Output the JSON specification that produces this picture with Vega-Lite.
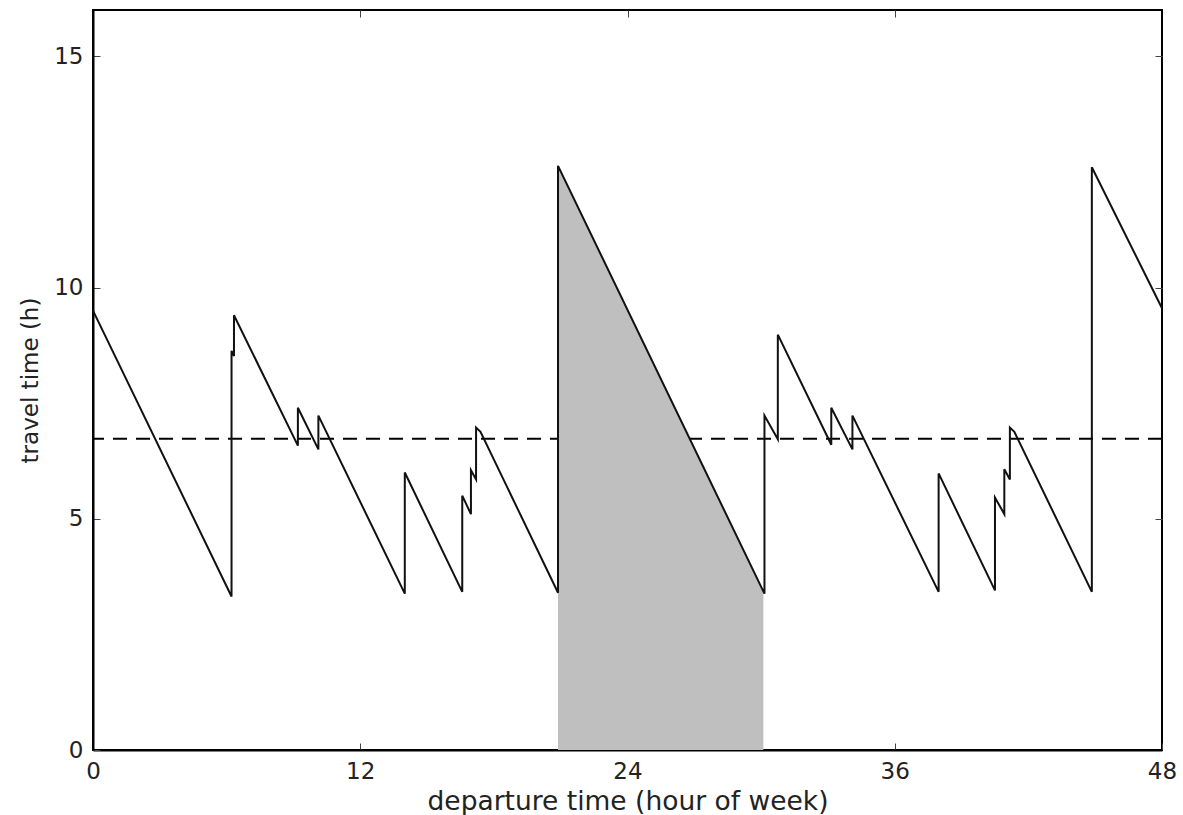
{
  "$schema": "https://vega.github.io/schema/vega-lite/v6.json",
  "width": 1069,
  "height": 740,
  "autosize": {"type": "none"},
  "padding": {"left": 93, "top": 10, "right": 21, "bottom": 65},
  "background": "white",
  "config": {
    "view": {"stroke": "black", "strokeWidth": 2},
    "axis": {
      "labelFont": "DejaVu Sans",
      "titleFont": "DejaVu Sans",
      "labelFontSize": 23,
      "titleFontSize": 23,
      "labelColor": "#222222",
      "titleColor": "#222222",
      "titleFontWeight": "normal",
      "labelFlush": false,
      "grid": false,
      "domainColor": "black",
      "domainWidth": 2,
      "tickColor": "#444444",
      "tickWidth": 1,
      "tickSize": -7
    }
  },
  "datasets": {
    "profile": [
      {"h": 0, "v": 9.5},
      {"h": 6.22, "v": 3.32},
      {"h": 6.22, "v": 8.63},
      {"h": 6.33, "v": 8.52},
      {"h": 6.33, "v": 9.4},
      {"h": 9.2, "v": 6.58},
      {"h": 9.2, "v": 7.4},
      {"h": 10.12, "v": 6.5},
      {"h": 10.12, "v": 7.23},
      {"h": 14.0, "v": 3.38},
      {"h": 14.0, "v": 6.0},
      {"h": 16.58, "v": 3.42},
      {"h": 16.58, "v": 5.5},
      {"h": 16.97, "v": 5.1},
      {"h": 16.97, "v": 6.05},
      {"h": 17.2, "v": 5.85},
      {"h": 17.2, "v": 6.97},
      {"h": 17.4, "v": 6.88},
      {"h": 20.88, "v": 3.4},
      {"h": 20.88, "v": 12.63},
      {"h": 30.15, "v": 3.38},
      {"h": 30.15, "v": 7.23},
      {"h": 30.75, "v": 6.72},
      {"h": 30.75, "v": 8.98},
      {"h": 33.15, "v": 6.6},
      {"h": 33.15, "v": 7.4},
      {"h": 34.1, "v": 6.5},
      {"h": 34.1, "v": 7.23},
      {"h": 37.97, "v": 3.42},
      {"h": 37.97, "v": 5.98},
      {"h": 40.5, "v": 3.45},
      {"h": 40.5, "v": 5.46},
      {"h": 40.92, "v": 5.1},
      {"h": 40.92, "v": 6.07},
      {"h": 41.17, "v": 5.85},
      {"h": 41.17, "v": 6.97},
      {"h": 41.37, "v": 6.88},
      {"h": 44.85, "v": 3.42},
      {"h": 44.85, "v": 12.6},
      {"h": 48, "v": 9.55}
    ],
    "shade": [
      {"h": 20.88, "v": 12.63},
      {"h": 30.1, "v": 3.43}
    ],
    "mean": [{"v": 6.73}]
  },
  "layer": [
    {
      "data": {"name": "mean"},
      "mark": {"type": "rule", "color": "black", "strokeWidth": 2, "strokeDash": [14, 9]},
      "encoding": {
        "y": {"field": "v", "type": "quantitative", "scale": {"domain": [0, 16], "nice": false}, "axis": {"values": [0, 5, 10, 15], "title": "travel time (h)", "labelPadding": 17, "titlePadding": 11}}
      }
    },
    {
      "data": {"name": "shade"},
      "mark": {"type": "area", "color": "#bfbfbf", "opacity": 1},
      "encoding": {
        "x": {"field": "h", "type": "quantitative", "scale": {"domain": [0, 48], "nice": false}, "axis": {"values": [0, 12, 24, 36, 48], "title": "departure time (hour of week)", "titleFontSize": 26.5, "labelPadding": 17, "titlePadding": 5}},
        "y": {"field": "v", "type": "quantitative", "axis": null}
      }
    },
    {
      "data": {"name": "profile"},
      "mark": {"type": "line", "color": "#111111", "strokeWidth": 2, "interpolate": "linear"},
      "encoding": {
        "x": {"field": "h", "type": "quantitative", "sort": null, "axis": null},
        "y": {"field": "v", "type": "quantitative", "axis": null},
        "order": {"value": 0}
      }
    },
    {
      "data": {"name": "mean"},
      "mark": {"type": "point", "opacity": 0},
      "encoding": {
        "x": {"field": "v", "type": "quantitative", "axis": {"orient": "top", "values": [12, 24, 36], "labels": false, "title": null, "domain": false}},
        "y": {"field": "v", "type": "quantitative", "axis": {"orient": "right", "values": [5, 10, 15], "labels": false, "title": null, "domain": false}}
      }
    }
  ],
  "resolve": {"axis": {"x": "independent", "y": "independent"}}
}
